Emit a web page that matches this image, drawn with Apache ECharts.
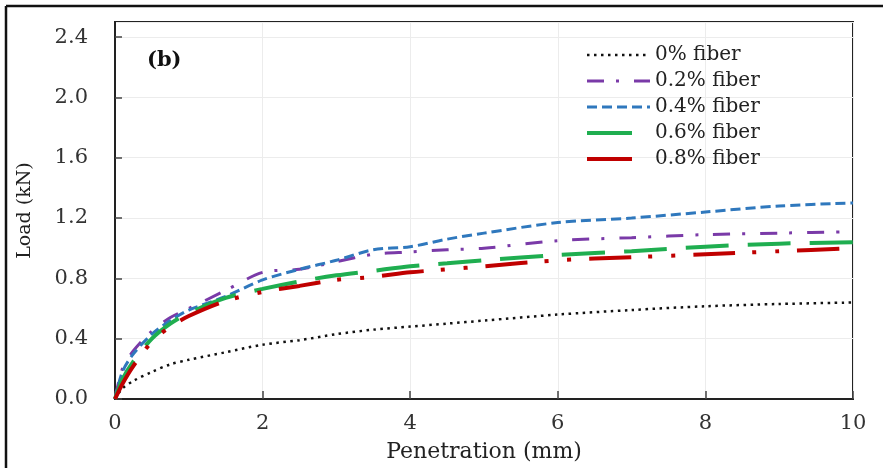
<!DOCTYPE html>
<html><head><meta charset="utf-8">
<script src="https://cdn.jsdelivr.net/npm/echarts@6/dist/echarts.min.js"></script>
<style>html,body{margin:0;padding:0;background:#fff}#c{width:883px;height:468px}</style>
</head><body><div id="c"></div>
<script>
const penetration = [0, 0.1, 0.25, 0.5, 0.75, 1, 1.5, 2, 2.5, 3, 3.5, 4, 4.5, 5, 6, 7, 8, 9, 10];
const fiber0  = [0, 0.07, 0.12, 0.18, 0.23, 0.26, 0.31, 0.36, 0.39, 0.43, 0.46, 0.48, 0.50, 0.52, 0.56, 0.59, 0.615, 0.63, 0.64];
const fiber02 = [0, 0.2, 0.32, 0.45, 0.54, 0.6, 0.72, 0.84, 0.86, 0.91, 0.96, 0.975, 0.99, 1.0, 1.05, 1.07, 1.09, 1.10, 1.11];
const fiber04 = [0, 0.18, 0.3, 0.43, 0.52, 0.59, 0.68, 0.79, 0.86, 0.92, 0.99, 1.01, 1.06, 1.1, 1.17, 1.2, 1.24, 1.28, 1.30];
const fiber06 = [0, 0.13, 0.25, 0.4, 0.5, 0.57, 0.67, 0.73, 0.78, 0.82, 0.85, 0.88, 0.9, 0.92, 0.955, 0.98, 1.01, 1.03, 1.04];
const fiber08 = [0, 0.1, 0.22, 0.38, 0.48, 0.55, 0.65, 0.71, 0.75, 0.79, 0.81, 0.84, 0.86, 0.88, 0.92, 0.94, 0.96, 0.98, 1.0];
const seriesNames = ['0% fiber', '0.2% fiber', '0.4% fiber', '0.6% fiber', '0.8% fiber'];
const xTicks = [0, 2, 4, 6, 8, 10];
const yTicks = [0, 0.4, 0.8, 1.2, 1.6, 2.0, 2.4];

const FONT = '"DejaVu Serif", "Liberation Serif", serif';
const pair = v => penetration.map((x, i) => [x, v[i]]);
const styles = [
  {color: '#111111', width: 2.5, type: [2.5, 4.5]},
  {color: '#7a3aa8', width: 3, type: [17, 12, 3, 15]},
  {color: '#2f78bd', width: 3, type: [10, 5]},
  {color: '#1fae50', width: 4, type: [43, 19]},
  {color: '#c00000', width: 4, type: [42, 17, 4, 19, 4, 18]}
];
const legendDash = [[2.5, 4.5], [17, 12, 3, 15], [10, 5], [45, 40], [45, 40]];
const values = [fiber0, fiber02, fiber04, fiber06, fiber08];

const chart = echarts.init(document.getElementById('c'));
chart.setOption({
  backgroundColor: '#fff',
  animation: false,
  grid: {left: 115, right: 30, top: 22, bottom: 68, show: true, borderColor: '#222', borderWidth: 2},
  legend: {
    orient: 'vertical', left: 580, top: 40, itemWidth: 63, itemHeight: 14, itemGap: 6,
    textStyle: {fontFamily: FONT, fontSize: 20, lineHeight: 20, color: '#222', padding: [0, 0, 0, 0]},
    itemStyle: {opacity: 0},
    data: seriesNames.map((n, i) => ({
      name: n,
      itemStyle: {opacity: 0},
      lineStyle: {color: styles[i].color, width: styles[i].width, type: legendDash[i]}
    }))
  },
  xAxis: {
    type: 'value', min: 0, max: 10, interval: 2,
    name: 'Penetration (mm)', nameLocation: 'middle', nameGap: 42,
    nameTextStyle: {fontFamily: FONT, fontSize: 22, color: '#222'},
    axisLine: {show: true, lineStyle: {color: '#222', width: 2}},
    axisTick: {show: true, inside: true, length: 8, lineStyle: {color: '#444', width: 1.5}},
    axisLabel: {fontFamily: FONT, fontSize: 21, color: '#333', margin: 14,
      formatter: v => xTicks.includes(v) ? String(v) : ''},
    splitLine: {show: true, lineStyle: {color: '#ececec', width: 1}}
  },
  yAxis: {
    type: 'value', min: 0, max: 2.5, interval: 0.4,
    name: 'Load (kN)', nameLocation: 'middle', nameGap: 80, nameRotate: 90,
    nameTextStyle: {fontFamily: FONT, fontSize: 19, color: '#222'},
    axisLine: {show: true, lineStyle: {color: '#222', width: 2}},
    axisTick: {show: true, inside: true, length: 7, lineStyle: {color: '#444', width: 1.5}},
    axisLabel: {fontFamily: FONT, fontSize: 21, color: '#333', margin: 27, showMaxLabel: false,
      formatter: v => yTicks.some(t => Math.abs(t - v) < 1e-6) ? v.toFixed(1) : ''},
    splitLine: {show: true, lineStyle: {color: '#ececec', width: 1}}
  },
  graphic: [
    {type: 'line', shape: {x1: 6, y1: 6, x2: 883, y2: 6}, style: {stroke: '#111', lineWidth: 2.5}},
    {type: 'line', shape: {x1: 6, y1: 6, x2: 6, y2: 468}, style: {stroke: '#111', lineWidth: 2.5}},
    {type: 'text', left: 147, top: 50, style: {text: '(b)', font: 'bold 21px ' + FONT, fill: '#111'}}
  ],
  series: values.map((v, i) => ({
    name: seriesNames[i], type: 'line', data: pair(v), smooth: 0.3,
    showSymbol: false, symbol: 'none',
    lineStyle: styles[i], itemStyle: {color: styles[i].color}
  }))
});
</script></body></html>
